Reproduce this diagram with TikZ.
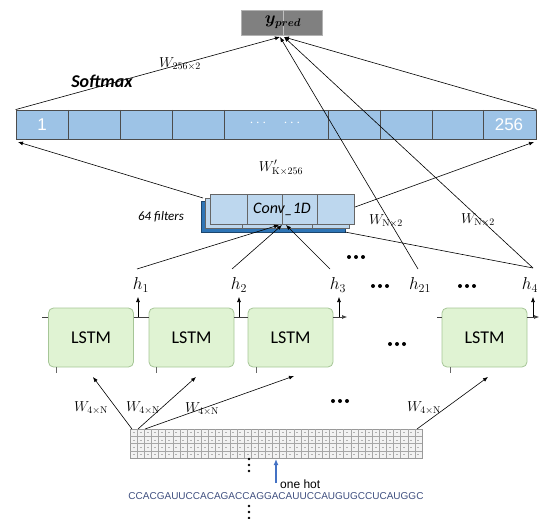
\documentclass[tikz,border=0pt]{standalone}
\usepackage{fontspec}
\newfontfamily\calfont{Carlito}
\newfontfamily\arialfont{Liberation Sans}
\usetikzlibrary{arrows.meta,calc}
\definecolor{barblue}{HTML}{9DC3E6}
\definecolor{convlight}{HTML}{BDD7EE}
\definecolor{convdark}{HTML}{2E75B6}
\definecolor{lstmfill}{HTML}{E0F3D3}
\definecolor{lstmline}{HTML}{A6C697}
\definecolor{seqblue}{HTML}{3F4F7F}
\definecolor{hotblue}{HTML}{4472C4}
%% three dots, drawn as filled circles
\newcommand{\rowdots}[1]{\foreach \k in {-7,0,7} \fill ($(#1)+(\k,0)$) circle (2pt);}
\newcommand{\coldots}[1]{\foreach \k in {-6,0,6} \fill ($(#1)+(0,\k)$) circle (1.3pt);}
\begin{document}
\begin{tikzpicture}[x=1pt,y=-1pt,
    cellbox/.style={draw=black!70,fill=barblue,line width=0.8pt,inner sep=0pt},
    lstm/.style={draw=lstmline,fill=lstmfill,rounded corners=5pt,line width=0.8pt,
        minimum width=85pt,minimum height=59pt,inner sep=0pt,
        font=\calfont\fontsize{18}{20}\selectfont},
    wlab/.style={font=\fontsize{14}{16}\selectfont,inner sep=1pt},
    hlab/.style={font=\fontsize{17}{19}\selectfont,inner sep=1pt},
    arr/.style={-{Latex[length=5pt,width=4pt]},line width=0.6pt},
    ln/.style={line width=0.6pt}]

    \useasboundingbox (0,0) rectangle (539,519);

    %% output
    \node[draw=black!30,fill=black!50,minimum width=81pt,minimum height=25pt,inner sep=0pt] (ypred) at (281.5,22.5) {};
    \draw[black!25,line width=0.8pt] (283,10) -- (283,35);
    \node[font=\fontsize{16}{18}\selectfont\boldmath] (ypredtxt) at (283,22) {$y_{pred}$};
    \coordinate (yin1) at (280,37);
    \coordinate (yin2) at (284,37);

    %% softmax layer
    \node[cellbox,minimum width=520pt,minimum height=29pt] (soft) at (276,124.5) {};
    \foreach \x in {68,120,172,224,328,380,432,483}
        \draw[black!70,line width=0.8pt] (\x,110) -- (\x,139);
    \node[font=\arialfont\fontsize{17}{18}\selectfont,text=white] (first) at (42,125) {1};
    \node[font=\fontsize{14}{16}\selectfont,text=white] (dotsa) at (258,123) {$\cdots$};
    \node[font=\fontsize{14}{16}\selectfont,text=white] (dotsb) at (292,123) {$\cdots$};
    \node[font=\arialfont\fontsize{17}{18}\selectfont,text=white] (last) at (509,125) {256};
    \node[font=\calfont\bfseries\itshape\fontsize{18}{20}\selectfont] (smx) at (102,81) {Softmax};
    \node[wlab] (wsoft) at (180,64) {$W_{256\times 2}$};
    \draw[arr] (soft.north west) -- (yin1);
    \draw[arr] (soft.north east) -- (yin2);

    %% conv layer
    \draw[fill=convdark,draw=convdark!60!black] (201,201) rectangle (345,232);
    \draw[fill=convlight,draw=black!60] (205,198) rectangle (349,228);
    \foreach \x in {242,277,312}
        \draw[black!60] (\x,198) -- (\x,228);
    \node[draw=black!60,fill=convlight,minimum width=144pt,minimum height=30pt,inner sep=0pt] (conv) at (282,209) {};
    \foreach \x in {247,282,317}
        \draw[black!60] (\x,194) -- (\x,224);
    \node[font=\calfont\itshape\fontsize{16}{18}\selectfont] (convtxt) at (282,209) {Conv\_1D};
    \node[font=\calfont\itshape\fontsize{13}{15}\selectfont] (filt) at (161,217) {64 filters};
    \node[wlab] (wconv) at (281,168) {$W'_{\mathrm{K}\times 256}$};
    \coordinate (cl) at (203,198);
    \coordinate (cr) at (355,207);
    \coordinate (cb) at (345,232);
    \draw[arr] (cl) -- (18,142);
    \draw[arr] (cr) -- (534,142);

    %% hidden states
    \node[hlab] (h1) at (141,285) {$h_1$};
    \node[hlab] (h2) at (239,285) {$h_2$};
    \node[hlab] (h3) at (338,285) {$h_3$};
    \node[hlab] (h21) at (420,285) {$h_{21}$};
    \node[hlab] (h4) at (530,285) {$h_4$};
    \coordinate (t1) at (137,269);
    \coordinate (t2) at (232,269);
    \coordinate (t3) at (330,269);
    \coordinate (t21) at (418,269);
    \coordinate (t4) at (533,268);
    \draw[arr] (t1) -- (279,225);
    \draw[arr] (t2) -- (282,225);
    \draw[arr] (t3) -- (286,225);
    \draw[ln] (t4) -- (cb);
    \draw[arr] (t21) -- (yin1);
    \draw[arr] (t4) -- (yin2);
    \node[wlab] (wh21) at (386,221) {$W_{\mathrm{N}\times 2}$};
    \node[wlab] (wh4) at (478,220) {$W_{\mathrm{N}\times 2}$};
    \coordinate (d1) at (356,257);
    \coordinate (d2) at (380,286);
    \coordinate (d3) at (467,286);
    \rowdots{d1} \rowdots{d2} \rowdots{d3}

    %% lstm cells
    \node[lstm] (l1) at (91,337.5) {LSTM};
    \node[lstm] (l2) at (191.5,337.5) {LSTM};
    \node[lstm] (l3) at (290.5,337.5) {LSTM};
    \node[lstm] (l4) at (484.5,337.5) {LSTM};
    \coordinate (d4) at (397,344);
    \rowdots{d4}
    \draw[black!75,ln] (42,317) -- (l1.west |- 0,317);
    \draw[black!75,ln] (l1.east |- 0,317) -- (l2.west |- 0,317);
    \draw[black!75,ln] (l2.east |- 0,317) -- (l3.west |- 0,317);
    \draw[black!75,arr] (l3.east |- 0,317) -- (347,317);
    \draw[black!75,ln] (437,317) -- (l4.west |- 0,317);
    \draw[black!75,arr] (l4.east |- 0,317) -- (539,317);
    \foreach \x in {138,239,339,533}
        \draw[arr] (\x,317) -- (\x,297);
    \foreach \x in {56,156,256,450}
        \draw[black!60,ln] (\x,367) -- (\x,373);

    %% one hot input
    \node[draw=black!40,fill=black!5,minimum width=292pt,minimum height=29pt,inner sep=0pt] (onehot) at (276,443.5) {};
    \foreach \i in {1,...,40}
        \draw[black!35,line width=0.4pt] (130+\i*7.122,429) -- ++(0,29);
    \foreach \j in {1,2,3}
        \draw[black!35,line width=0.4pt] (130,429+\j*7.25) -- ++(292,0);
    \foreach \i in {0,...,40}
        \foreach \j in {0,...,3}
            \draw[black!30,line width=0.5pt] (132.6+\i*7.122,432.6+\j*7.25) -- ++(2,0);
    \coordinate (g1) at (132,429);
    \coordinate (g2) at (138,429);
    \coordinate (g3) at (145,429);
    \coordinate (g4) at (417,429);
    \draw[arr] (g1) -- (93,377);
    \draw[arr] (g2) -- (196,377);
    \draw[arr] (g3) -- (294,376);
    \draw[arr] (g4) -- (488,377);
    \node[wlab] (w1) at (91,408) {$W_{4\times\mathrm{N}}$};
    \node[wlab] (w2) at (143,408) {$W_{4\times\mathrm{N}}$};
    \node[wlab] (w3) at (202,409) {$W_{4\times\mathrm{N}}$};
    \node[wlab] (w4) at (424,408) {$W_{4\times\mathrm{N}}$};
    \coordinate (d5) at (340,401);
    \rowdots{d5}

    %% sequence
    \coordinate (vd1) at (249,465);
    \coordinate (vd2) at (249,512);
    \coldots{vd1} \coldots{vd2}
    \node[font=\arialfont\fontsize{10}{12}\selectfont,text=seqblue,inner sep=0pt] (seq) at (276,496) {CCACGAUUCCACAGACCAGGACAUUCCAUGUGCCUCAUGGC};
    \node[font=\arialfont\fontsize{12}{14}\selectfont,anchor=west,inner sep=0pt] (hot) at (280,484) {one hot};
    \draw[hotblue,line width=1.6pt,-{Latex[length=6pt,width=5pt]}] (276,483) -- (276,459);
\end{tikzpicture}
\end{document}
